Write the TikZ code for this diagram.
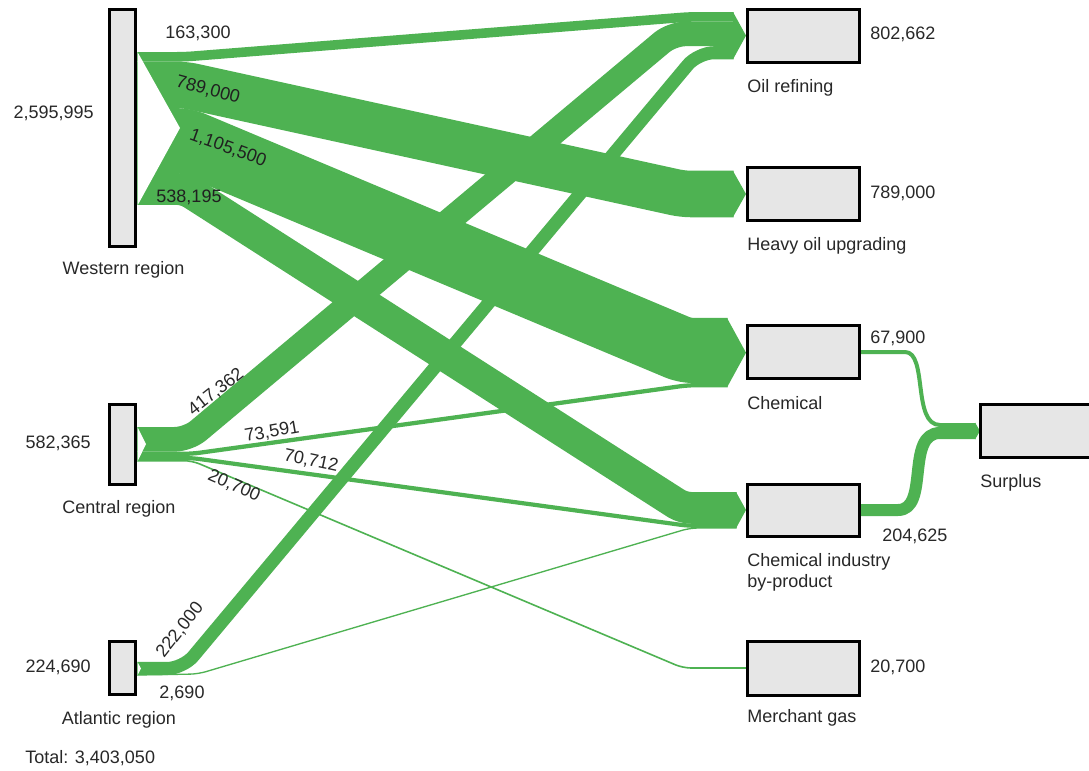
\documentclass[tikz,border=0pt]{standalone}
\usepackage{fontspec}
\setmainfont{Liberation Sans}
\definecolor{flowgreen}{RGB}{78,178,82}
\definecolor{boxgray}{RGB}{230,230,230}
\definecolor{txt}{RGB}{40,40,40}
\begin{document}
\begin{tikzpicture}[x=0.75pt,y=-0.75pt,
  box/.style={draw=black, line width=2.25pt, fill=boxgray, inner sep=0pt},
  flow/.style={draw=flowgreen, line cap=butt, line join=round, rounded corners=6pt},
  tip/.style={fill=flowgreen, draw=none},
  notch/.style={fill=white, draw=none},
  lbl/.style={text=txt, font=\fontsize{13.5}{16}\selectfont, inner sep=0pt},
  vlbl/.style={text=txt!80!black, font=\fontsize{13.5}{16}\selectfont, inner sep=0pt}]
\clip (0,0) rectangle (1089,771);
\fill[white] (0,0) rectangle (1089,771);

% ---- ports (named coordinates) ----
% Western
\coordinate (w1) at (136,56.8);   \coordinate (w1b) at (185,56.8);
\coordinate (w2) at (136,84.9);   \coordinate (w2b) at (185,84.9);
\coordinate (w3) at (136,140.7);  \coordinate (w3b) at (185,140.7);
\coordinate (w4) at (136,189);    \coordinate (w4b) at (185,189);
% Central
\coordinate (c1) at (136,439.3);  \coordinate (c1b) at (188,439.3);
\coordinate (c2) at (136,453.8);  \coordinate (c2b) at (192,453.8);
\coordinate (c3) at (136,458);    \coordinate (c3b) at (192,458);
\coordinate (c4) at (136,460.7);  \coordinate (c4b) at (192,460.7);
% Atlantic
\coordinate (a1) at (136,668.5);  \coordinate (a1b) at (183,668.5);
\coordinate (a2) at (136,675);    \coordinate (a2b) at (198,674);
% Oil refining
\coordinate (o1) at (733.5,16.8);   \coordinate (o1b) at (690,16.8);
\coordinate (o2) at (733.5,33.9);   \coordinate (o2b) at (672,33.9);
\coordinate (o3) at (733.5,52.75);  \coordinate (o3b) at (698,52.75);
% Heavy oil
\coordinate (h1) at (733.5,194);    \coordinate (h1b) at (683,194);
% Chemical
\coordinate (k1) at (727.5,350.5);  \coordinate (k1b) at (685,350.5);
\coordinate (k2) at (727.5,385.2);  \coordinate (k2b) at (688,385.2);
% Chemical industry by-product
\coordinate (i1) at (736.5,507.9);  \coordinate (i1b) at (683,507.9);
\coordinate (i2) at (736.5,525.8);  \coordinate (i2b) at (688,525.8);
\coordinate (i3) at (736.5,528);    \coordinate (i3b) at (690,528);
% Merchant gas
\coordinate (m1) at (746,668);      \coordinate (m1b) at (683,668);
% Surplus
\coordinate (k3) at (861,352);   \coordinate (i4) at (861,510);
\coordinate (s1) at (975.5,425); \coordinate (s2) at (975.5,433);

% ---- flows ----
\draw[flow, line width=7.2pt]  (w1) -- (w1b) -- (o1b) -- (o1);
\draw[flow, line width=34.9pt] (w2) -- (w2b) -- (h1b) -- (h1);
\draw[flow, line width=48.8pt] (w3) -- (w3b) -- (k1b) -- (k1);
\draw[flow, line width=23.8pt] (w4) -- (w4b) -- (i1b) -- (i1);
\draw[flow, line width=18.45pt, rounded corners=10pt] (c1) -- (c1b) -- (o2b) -- (o2);
\draw[flow, line width=3.2pt]  (c2) -- (c2b) -- (k2b) -- (k2);
\draw[flow, line width=3.15pt] (c3) -- (c3b) -- (i2b) -- (i2);
\draw[flow, line width=1.2pt]  (c4) -- (c4b) -- (m1b) -- (m1);
\draw[flow, line width=9.8pt, rounded corners=12pt] (a1) -- (a1b) -- (o3b) -- (o3);
\draw[flow, line width=1pt]    (a2) -- (a2b) -- (i3b) -- (i3);
\draw[flow, line width=3pt]  (k3) -- (897,352) .. controls (928,352) and (912,425) .. (948,425) -- (s1);
\draw[flow, line width=9pt]  (i4) -- (890,510) .. controls (930,510) and (905,433) .. (948,433) -- (s2);

% arrow tips
\fill[tip] (733,12) -- (746,35.6) -- (733,59.3) -- cycle;
\fill[tip] (733,171) -- (746,194) -- (733,217) -- cycle;
\fill[tip] (727,318) -- (746,352.7) -- (727,387.4) -- cycle;
\fill[tip] (736,492) -- (746,510) -- (736,528.3) -- cycle;
\fill[tip] (975,422.5) -- (980,431) -- (975,439.5) -- cycle;

% source notches
\fill[notch] (137.5,52) -- (180,128) -- (137.5,205.5) -- cycle;
\fill[notch] (137.5,427) -- (146,444) -- (137.5,461.5) -- cycle;
\fill[notch] (137.5,662) -- (141,668.5) -- (137.5,675.3) -- cycle;

% ---- boxes ----
\node[box, minimum width=19.5pt, minimum height=177.75pt] (W) at (122.5,128) {};
\node[box, minimum width=19.5pt, minimum height=60pt]     (C) at (122.5,444.5) {};
\node[box, minimum width=19.5pt, minimum height=39.75pt]  (A) at (122.5,668) {};
\node[box, minimum width=84pt, minimum height=39.75pt] (OIL) at (803.5,36) {};
\node[box, minimum width=84pt, minimum height=39.75pt] (HEAVY) at (803.5,194) {};
\node[box, minimum width=84pt, minimum height=39.75pt] (CHEM) at (803.5,352) {};
\node[box, minimum width=84pt, minimum height=39pt]    (IND) at (803.5,510.5) {};
\node[box, minimum width=84pt, minimum height=40.5pt]  (MERCH) at (803.5,668.5) {};
\node[box, minimum width=90pt, minimum height=39.75pt] (SUR) at (1040.5,431) {};

% ---- labels ----
\node[lbl, anchor=east] (lW) at (94,113) {2,595,995};
\node[lbl] (nW) at (123.5,270) {Western region};
\node[lbl, anchor=east] (lC) at (91,443) {582,365};
\node[lbl] (nC) at (119,509) {Central region};
\node[lbl, anchor=east] (lA) at (91,667) {224,690};
\node[lbl] (nA) at (119,720) {Atlantic region};
\node[lbl, anchor=west] (tot) at (25,758) {Total: 3,403,050};

\node[lbl] (f1) at (198,33) {163,300};
\node[vlbl, rotate=-15] (f2) at (208,90) {789,000};
\node[vlbl, rotate=-20] (f3) at (228,148) {1,105,500};
\node[vlbl] (f4) at (189,197) {538,195};
\node[lbl, rotate=38] (f5) at (216,392) {417,362};
\node[lbl, rotate=10] (f6) at (272,432) {73,591};
\node[lbl, rotate=-12] (f7) at (311,461) {70,712};
\node[lbl, rotate=-24] (f8) at (234,486) {20,700};
\node[lbl, rotate=52] (f9) at (180,630) {222,000};
\node[lbl] (f10) at (182,693) {2,690};

\node[lbl, anchor=west] (vO) at (870,34) {802,662};
\node[lbl, anchor=west] (nO) at (747,88) {Oil refining};
\node[lbl, anchor=west] (vH) at (870,193) {789,000};
\node[lbl, anchor=west] (nH) at (747,246) {Heavy oil upgrading};
\node[lbl, anchor=west] (vK) at (870,338) {67,900};
\node[lbl, anchor=west] (nK) at (747,403) {Chemical};
\node[lbl, anchor=west] (vI) at (882,536) {204,625};
\node[lbl, anchor=west] (nI1) at (747,562) {Chemical industry};
\node[lbl, anchor=west] (nI2) at (747,583) {by-product};
\node[lbl, anchor=west] (vM) at (870,667) {20,700};
\node[lbl, anchor=west] (nM) at (747,718) {Merchant gas};
\node[lbl, anchor=west] (nS) at (980,483) {Surplus};
\end{tikzpicture}
\end{document}
